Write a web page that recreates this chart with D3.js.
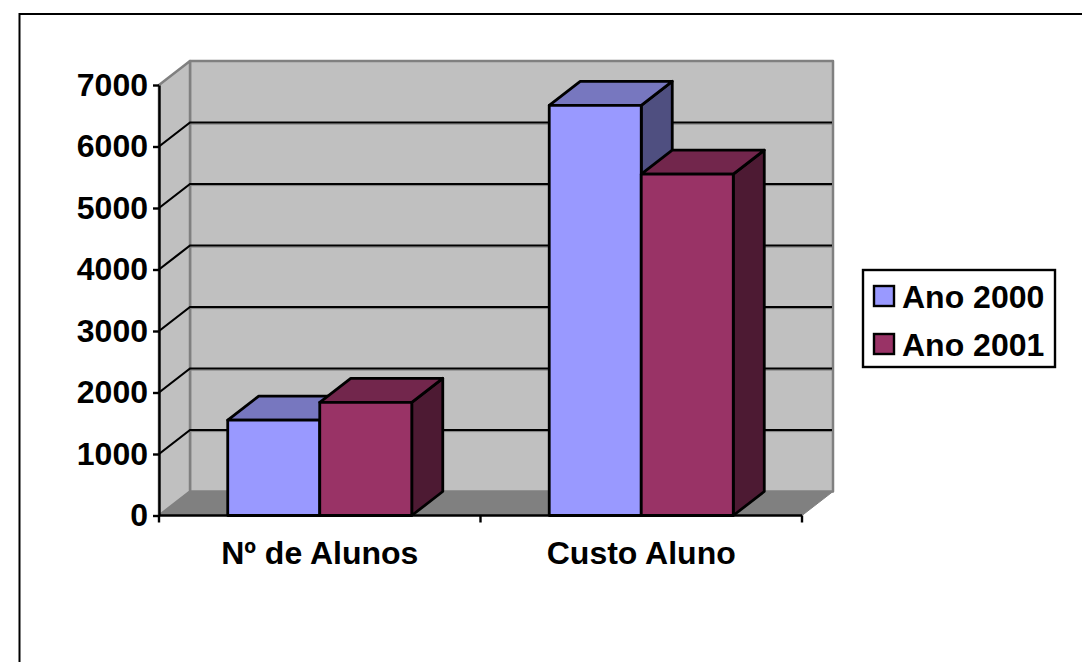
<!DOCTYPE html>
<html>
<head>
<meta charset="utf-8">
<script src="https://cdn.jsdelivr.net/npm/d3@7"></script>
<style>
  html, body { margin: 0; padding: 0; background: #fff; }
  svg { display: block; }
  text { font-family: "Liberation Sans", Arial, sans-serif; font-weight: bold; fill: #000; }
</style>
</head>
<body>
<div id="chart"></div>
<script>
// Values
const categories = ["Nº de Alunos", "Custo Aluno"];
const seriesNames = ["Ano 2000", "Ano 2001"];
const ano2000 = [1550, 6670];
const ano2001 = [1840, 5550];
const yTicks = [0, 1000, 2000, 3000, 4000, 5000, 6000, 7000];

const frontColors = ["#9999ff", "#993366"];
const topColors = ["#7777bf", "#72264c"];
const sideColors = ["#4f4f80", "#4d1a33"];

const width = 1082, height = 662;
const depthX = 31, depthY = -24;
const fontSize = 32;

const svg = d3.select("#chart").append("svg")
    .attr("width", width)
    .attr("height", height);

// outer frame: only top and left edges are on the page
svg.append("path")
    .attr("d", "M19.5,694V14H1082")
    .attr("fill", "none")
    .attr("stroke", "#000")
    .attr("stroke-width", 2);

const y = d3.scaleLinear().domain([0, 7000]).range([515.5, 85]);
const x0 = d3.scaleBand().domain(categories).range([159, 802]);
const x1 = d3.scaleBand().domain(seriesNames).range([0, x0.bandwidth()]).paddingInner(0).paddingOuter(0.747);

function poly(points, fill, stroke, sw) {
    return svg.append("polygon")
        .attr("points", points.map(p => p.join(",")).join(" "))
        .attr("fill", fill)
        .attr("stroke", stroke)
        .attr("stroke-width", sw)
        .attr("stroke-linejoin", "round");
}

const left = x0.range()[0], right = x0.range()[1];
const bottom = y(0), top7 = y(7000);

// back wall, side wall, floor
poly([[left + depthX, top7 + depthY], [right + depthX, top7 + depthY], [right + depthX, bottom + depthY], [left + depthX, bottom + depthY]], "#c0c0c0", "#808080", 2.5);
poly([[left, top7], [left + depthX, top7 + depthY], [left + depthX, bottom + depthY], [left, bottom]], "#c0c0c0", "#808080", 2.5);
poly([[left, bottom], [left + depthX, bottom + depthY], [right + depthX, bottom + depthY], [right, bottom]], "#808080", "#808080", 1);

// gridlines across both walls, with the thin grey edge under the back part
yTicks.slice(1, -1).forEach(t => {
    svg.append("line")
        .attr("x1", left + depthX).attr("x2", right + depthX - 1)
        .attr("y1", y(t) + depthY + 1.6).attr("y2", y(t) + depthY + 1.6)
        .attr("stroke", "#808080")
        .attr("stroke-width", 1);
    svg.append("path")
        .attr("d", `M${left},${y(t)}L${left + depthX},${y(t) + depthY}L${right + depthX - 1},${y(t) + depthY}`)
        .attr("fill", "none")
        .attr("stroke", "#000")
        .attr("stroke-width", 2.2);
});

// bars, series by series inside each category
categories.forEach((c, i) => {
    [ano2000, ano2001].forEach((vals, s) => {
        const xa = x0(c) + x1(seriesNames[s]);
        const xb = xa + x1.bandwidth();
        const yv = y(vals[i]);
        poly([[xb, yv], [xb + depthX, yv + depthY], [xb + depthX, bottom + depthY], [xb, bottom]], sideColors[s], "#000", 2.8);
        poly([[xa, yv], [xa + depthX, yv + depthY], [xb + depthX, yv + depthY], [xb, yv]], topColors[s], "#000", 2.8);
        poly([[xa, yv], [xb, yv], [xb, bottom], [xa, bottom]], frontColors[s], "#000", 2.8);
    });
});

// y axis
const yAxis = svg.append("g")
    .attr("transform", `translate(${left},0)`)
    .call(d3.axisLeft(y).tickValues(yTicks).tickSize(6).tickSizeOuter(0).tickPadding(5).tickFormat(d3.format("d")));
yAxis.selectAll("path, line").attr("stroke", "#000").attr("stroke-width", 2.4);
yAxis.selectAll("text")
    .attr("font-size", fontSize)
    .style("font-family", '"Liberation Sans", Arial, sans-serif');

// x axis
const xAxis = svg.append("g")
    .attr("transform", `translate(0,${bottom})`);
xAxis.append("line").attr("x1", left).attr("x2", right).attr("stroke", "#000").attr("stroke-width", 2.4);
[left, left + x0.step(), right].forEach(t => {
    xAxis.append("line").attr("x1", t).attr("x2", t).attr("y1", 0).attr("y2", 7).attr("stroke", "#000").attr("stroke-width", 2.4);
});
categories.forEach(c => {
    xAxis.append("text")
        .attr("x", x0(c) + x0.bandwidth() / 2)
        .attr("y", 48.5)
        .attr("text-anchor", "middle")
        .attr("font-size", fontSize)
        .text(c);
});

// legend
const legend = svg.append("g").attr("transform", "translate(863,270)");
legend.append("rect").attr("width", 192).attr("height", 97).attr("fill", "#fff").attr("stroke", "#000").attr("stroke-width", 2.4);
seriesNames.forEach((name, s) => {
    const row = legend.append("g").attr("transform", `translate(11,${16 + s * 48})`);
    row.append("rect").attr("width", 20).attr("height", 20).attr("fill", frontColors[s]).attr("stroke", "#000").attr("stroke-width", 2.4);
    row.append("text").attr("x", 28).attr("y", 22).attr("font-size", fontSize).text(name);
});
</script>
</body>
</html>
